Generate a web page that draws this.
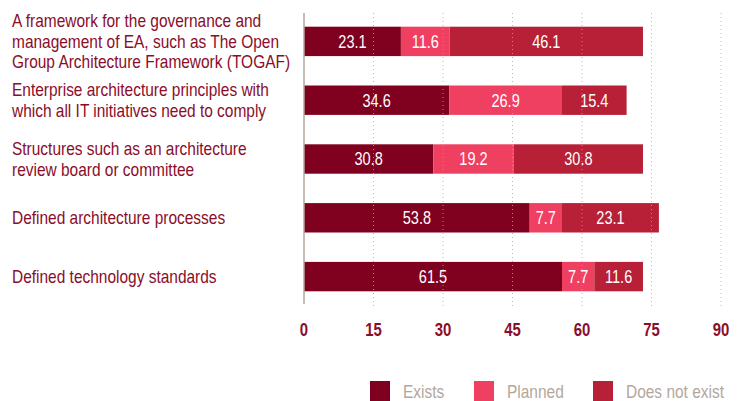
<!DOCTYPE html>
<html>
<head>
<meta charset="utf-8">
<script src="https://cdn.jsdelivr.net/npm/d3@7"></script>
<style>
  body { margin: 0; background: #fff; }
  text { font-family: "Liberation Sans", Arial, sans-serif; }
</style>
</head>
<body>
<div id="wrapper"></div>
<script>
const categories = [
  ["A framework for the governance and", "management of EA, such as The Open", "Group Architecture Framework (TOGAF)"],
  ["Enterprise architecture principles with", "which all IT initiatives need to comply"],
  ["Structures such as an architecture", "review board or committee"],
  ["Defined architecture processes"],
  ["Defined technology standards"],
];
const seriesNames = ["Exists", "Planned", "Does not exist"];
const exists = [23.1, 34.6, 30.8, 53.8, 61.5];
const planned = [11.6, 26.9, 19.2, 7.7, 7.7];
const doesNotExist = [46.1, 15.4, 30.8, 23.1, 11.6];
const tickValues = [0, 15, 30, 45, 60, 75, 90];

const colors = ["#80001f", "#ef4062", "#b72036"];

// no condensed font installed, so squeeze a normal one horizontally
const narrow = 0.83;
const narrowLabel = 0.86;

function drawChart() {
  const dimensions = {
    width: 741,
    height: 401,
    left: 304,
    right: 721,
    top: 12,
    bottom: 306,
  };

  const svg = d3
    .select("#wrapper")
    .append("svg")
    .attr("width", dimensions.width)
    .attr("height", dimensions.height);

  // axis ticks run 0..90, bars in the original are drawn a bit shorter
  const xAxisScale = d3
    .scaleLinear()
    .domain([0, 90])
    .range([dimensions.left, dimensions.right]);
  const xBarScale = d3
    .scaleLinear()
    .domain([0, 99.4])
    .range([dimensions.left, dimensions.right]);

  const yScale = d3
    .scaleBand()
    .domain(d3.range(categories.length))
    .range([dimensions.top, dimensions.bottom])
    .paddingInner(0.5)
    .paddingOuter(0.25);

  const rows = categories.map((c, i) => ({
    i,
    Exists: exists[i],
    Planned: planned[i],
    "Does not exist": doesNotExist[i],
  }));
  const stacked = d3.stack().keys(seriesNames)(rows);

  // bars
  const layers = svg
    .append("g")
    .selectAll("g")
    .data(stacked)
    .join("g")
    .attr("fill", (d, idx) => colors[idx]);

  layers
    .selectAll("rect")
    .data((d) => d)
    .join("rect")
    .attr("x", (d) => xBarScale(d[0]))
    .attr("y", (d) => yScale(d.data.i))
    .attr("width", (d) => xBarScale(d[1]) - xBarScale(d[0]))
    .attr("height", yScale.bandwidth());

  // dotted grid on top of the bars
  svg
    .append("g")
    .selectAll("line")
    .data(tickValues.slice(1))
    .join("line")
    .attr("x1", (d) => xAxisScale(d))
    .attr("x2", (d) => xAxisScale(d))
    .attr("y1", 13)
    .attr("y2", 306)
    .attr("stroke", "#b3a79c")
    .attr("stroke-width", 1)
    .attr("stroke-dasharray", "1,3")
    .attr("opacity", 0.8);

  svg
    .append("line")
    .attr("x1", xAxisScale(0))
    .attr("x2", xAxisScale(0))
    .attr("y1", 13)
    .attr("y2", 304)
    .attr("stroke", "#b3a79c")
    .attr("stroke-width", 1.5);

  // value labels
  layers
    .selectAll("g")
    .data((d) => d)
    .join("g")
    .attr(
      "transform",
      (d) =>
        `translate(${(xBarScale(d[0]) + xBarScale(d[1])) / 2}, ${
          yScale(d.data.i) + yScale.bandwidth() / 2
        }) scale(${narrow}, 1)`
    )
    .append("text")
    .attr("dy", "0.36em")
    .attr("text-anchor", "middle")
    .attr("fill", "#ffffff")
    .attr("font-size", 17.5)
    .text((d) => d3.format(".1f")(d[1] - d[0]));

  // tick labels
  svg
    .append("g")
    .selectAll("g")
    .data(tickValues)
    .join("g")
    .attr("transform", (d) => `translate(${xAxisScale(d)}, 336) scale(${narrow}, 1)`)
    .append("text")
    .attr("text-anchor", "middle")
    .attr("font-weight", "bold")
    .attr("font-size", 18)
    .attr("fill", "#8a0d2a")
    .text((d) => d);

  // category labels
  const lineHeight = 20.5;
  const labels = svg
    .append("g")
    .selectAll("g")
    .data(categories)
    .join("g")
    .attr(
      "transform",
      (d, i) =>
        `translate(12, ${
          yScale(i) +
          yScale.bandwidth() / 2 +
          6.5 -
          ((d.length - 1) * lineHeight) / 2
        }) scale(${narrowLabel}, 1)`
    )
    .append("text")
    .attr("font-size", 18)
    .attr("fill", "#8a0d2a");
  labels
    .selectAll("tspan")
    .data((d) => d)
    .join("tspan")
    .attr("x", 0)
    .attr("dy", (d, j) => (j == 0 ? 0 : lineHeight))
    .text((d) => d);

  // legend
  const legendX = [370, 474, 593];
  const legend = svg
    .append("g")
    .selectAll("g")
    .data(seriesNames)
    .join("g")
    .attr("transform", (d, i) => `translate(${legendX[i]}, 381)`);
  legend
    .append("rect")
    .attr("width", 20)
    .attr("height", 20)
    .attr("fill", (d, i) => colors[i]);
  legend
    .append("g")
    .attr("transform", `translate(33, 17) scale(${narrowLabel}, 1)`)
    .append("text")
    .attr("font-size", 18)
    .attr("fill", "#b3a79c")
    .text((d) => d);
}

drawChart();
</script>
</body>
</html>
